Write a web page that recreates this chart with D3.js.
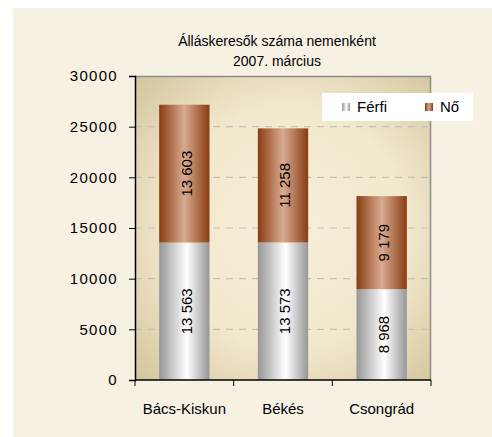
<!DOCTYPE html>
<html>
<head>
<meta charset="utf-8">
<script src="https://cdn.jsdelivr.net/npm/d3@7"></script>
<style>
  body { margin: 0; background: #fff; }
  text { font-family: 'Liberation Sans', Arial, sans-serif; fill: #000; }
</style>
</head>
<body>
<div id="chart"></div>
<script>
const categories = ['Bács-Kiskun', 'Békés', 'Csongrád']
const ferfi = [13563, 13573, 8968]
const no = [13603, 11258, 9179]
const seriesNames = ['Férfi', 'Nő']
const yTicks = [0, 5000, 10000, 15000, 20000, 25000, 30000]
const titleLines = ['Álláskeresők száma nemenként', '2007. március']

const w = 492
const h = 437
const m = { left: 135, right: 61, top: 76, bottom: 57 }
const pw = w - m.left - m.right
const ph = h - m.top - m.bottom

const svg = d3.select('#chart').append('svg')
  .attr('width', w)
  .attr('height', h)

const defs = svg.append('defs')

const bg = defs.append('radialGradient').attr('id', 'plotbg')
  .attr('cx', '0.52').attr('cy', '0.5').attr('r', '0.72')
bg.append('stop').attr('offset', '0%').attr('stop-color', '#f8efda')
bg.append('stop').attr('offset', '55%').attr('stop-color', '#f2e8cd')
bg.append('stop').attr('offset', '100%').attr('stop-color', '#d3c49c')

function cyl (id, edge, mid, midOff) {
  let g = defs.append('linearGradient').attr('id', id)
    .attr('x1', '0').attr('x2', '1').attr('y1', '0').attr('y2', '0')
  g.append('stop').attr('offset', '0%').attr('stop-color', edge)
  g.append('stop').attr('offset', midOff).attr('stop-color', mid)
  g.append('stop').attr('offset', '100%').attr('stop-color', edge)
}
cyl('gFerfi', '#969696', '#ffffff', '55%')
cyl('gNo', '#8a3c12', '#d8ab91', '50%')

// outer background
svg.append('rect')
  .attr('x', 13).attr('y', 8)
  .attr('width', w - 13).attr('height', h - 8)
  .attr('fill', '#f7f1e4')

// title
svg.append('g').selectAll('text')
  .data(titleLines)
  .enter().append('text')
  .attr('x', 277)
  .attr('y', (d, i) => 46 + i * 20)
  .attr('text-anchor', 'middle')
  .style('font-size', '14px')
  .text(d => d)

const x = d3.scaleBand().domain(categories).range([0, pw]).paddingInner(0.49).paddingOuter(0.245)
const xb = d3.scaleBand().domain(categories).range([0, pw])
const y = d3.scaleLinear().domain([0, 30000]).range([ph, 0])

const g = svg.append('g').attr('transform', `translate(${m.left},${m.top})`)

g.append('rect')
  .attr('width', pw).attr('height', ph)
  .attr('fill', 'url(#plotbg)')

// grid
g.append('g').selectAll('line')
  .data(yTicks.filter(d => d > 0 && d < 30000))
  .enter().append('line')
  .attr('x1', 0).attr('x2', pw)
  .attr('y1', d => y(d)).attr('y2', d => y(d))
  .attr('stroke', '#c4c1b8')
  .attr('stroke-width', 1.2)
  .attr('stroke-dasharray', '7,6')

// border top/right
g.append('path')
  .attr('d', `M0,0.5H${pw - 0.5}V${ph}`)
  .attr('fill', 'none')
  .attr('stroke', '#8c8c8c')
  .attr('stroke-width', 1.5)

const stacked = categories.map((c, i) => [
  { cat: c, key: 'gFerfi', y0: 0, y1: ferfi[i], v: ferfi[i] },
  { cat: c, key: 'gNo', y0: ferfi[i], y1: ferfi[i] + no[i], v: no[i] }
])

const fmt = v => d3.format(',')(v).replace(',', ' ')

const segs = g.append('g').selectAll('g')
  .data(stacked.flat())
  .enter().append('g')

segs.append('rect')
  .attr('x', d => x(d.cat))
  .attr('width', x.bandwidth())
  .attr('y', d => y(d.y1))
  .attr('height', d => y(d.y0) - y(d.y1))
  .attr('fill', d => `url(#${d.key})`)

segs.append('text')
  .attr('transform', d => `translate(${x(d.cat) + x.bandwidth() / 2 + 2},${(y(d.y0) + y(d.y1)) / 2}) rotate(-90)`)
  .attr('text-anchor', 'middle')
  .attr('dy', '0.35em')
  .style('font-size', '15px')
  .text(d => fmt(d.v))

// y axis
const yAxis = g.append('g')
  .call(d3.axisLeft(y).tickValues(yTicks).tickSize(6).tickPadding(11).tickFormat(d3.format('d')))
yAxis.select('.domain').attr('stroke', '#000').attr('stroke-width', 1.5)
yAxis.selectAll('line').attr('stroke', '#000')
yAxis.selectAll('text')
  .style('font-size', '15px')
  .style('letter-spacing', '1.3px')
  .style('font-family', "'Liberation Sans', Arial, sans-serif")

// x axis
const xAxis = g.append('g').attr('transform', `translate(0,${ph})`)
xAxis.append('line').attr('x1', 0).attr('x2', pw).attr('stroke', '#000').attr('stroke-width', 1.5)
xAxis.selectAll('.tk')
  .data(categories.concat(['end']))
  .enter().append('line')
  .attr('class', 'tk')
  .attr('x1', (d, i) => i * xb.bandwidth())
  .attr('x2', (d, i) => i * xb.bandwidth())
  .attr('y1', 0).attr('y2', 6)
  .attr('stroke', '#000')
xAxis.selectAll('.lbl')
  .data(categories)
  .enter().append('text')
  .attr('class', 'lbl')
  .attr('x', d => x(d) + x.bandwidth() / 2)
  .attr('y', 34)
  .attr('text-anchor', 'middle')
  .style('font-size', '15px')
  .text(d => d)

// legend
const lg = svg.append('g').attr('transform', 'translate(322,93)')
lg.append('rect').attr('width', 151).attr('height', 28).attr('fill', '#fff')
const items = lg.selectAll('.it')
  .data(seriesNames)
  .enter().append('g')
  .attr('class', 'it')
  .attr('transform', (d, i) => `translate(${20 + i * 83},10)`)
items.append('rect')
  .attr('width', 8).attr('height', 8)
  .attr('fill', (d, i) => i === 0 ? 'url(#gFerfi)' : 'url(#gNo)')
items.append('text')
  .attr('x', 15).attr('y', 9)
  .style('font-size', '15px')
  .text(d => d)
</script>
</body>
</html>
